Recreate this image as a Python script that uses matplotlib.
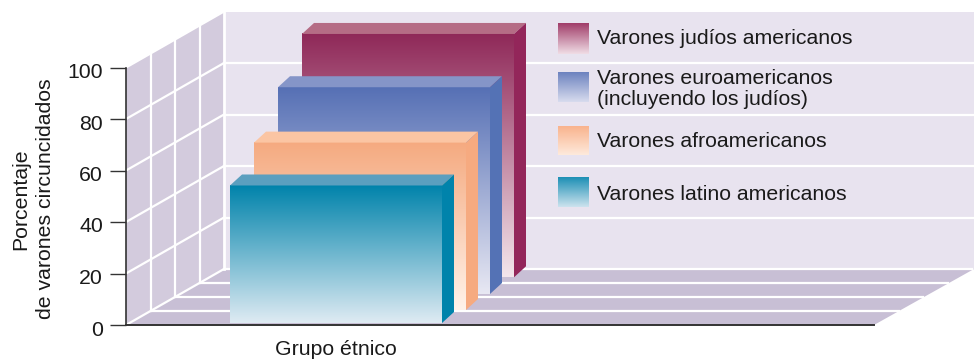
import numpy as np
import matplotlib
matplotlib.use("Agg")
import matplotlib.pyplot as plt
from matplotlib.colors import LinearSegmentedColormap
from matplotlib.patches import Polygon
from matplotlib.transforms import ScaledTranslation

plt.rcParams['font.family'] = ['Liberation Sans', 'DejaVu Sans']

# Data, back bar first
groups = ["Varones judíos americanos",
          "Varones euroamericanos\n(incluyendo los judíos)",
          "Varones afroamericanos",
          "Varones latino americanos"]
percent = [94.5, 80.3, 65, 53.4]
y_ticks = [0, 20, 40, 60, 80, 100]
x_label = "Grupo étnico"
y_label = "Porcentaje\nde varones circuncidados"

# Colours per bar: gradient top, gradient bottom, side face, cap
grad_top = ['#8f2858', '#5670b5', '#f5aa80', '#0083ab']
grad_bottom = ['#f3e6ec', '#e8e8f3', '#fff3ea', '#dfebf3']
side_col = ['#93265a', '#5472b5', '#f6aa80', '#0083ab']
cap_col = ['#b56c85', '#8595c8', '#fbc5a3', '#5b9fbf']
swatch_top = ['#a03c69', '#6c82bf', '#f9b38d', '#1c8fb5']
swatch_bottom = ['#f0dde5', '#d8dcee', '#feeadc', '#cde3ee']

# Layout of the fake 3D box, in pixels on a 974x360 canvas
PX_PER_PCT = 2.575
ZERO_PX = 325
DEPTH_X, DEPTH_Y = 98, 56
bar_left = [302, 278, 254, 230]
bar_base = [277.3, 294, 310, 323]
bar_width = 212
cap_dx, cap_dy = 12, 11
swatch_y = [(23, 54), (72, 102), (126, 155), (177, 207)]
label_y = [38.5, 89, 141.5, 194.5]

WALL_BACK = '#e8e3ef'
WALL_LEFT = '#d3cbdd'
FLOOR = '#c8bfd5'
AXIS_COL = '#333333'
TEXT_COL = '#1a1a1a'
FONT_SIZE = 15.3


def pct_of(px):
    return (ZERO_PX - px) / PX_PER_PCT


def depth_pt(x, pct, d):
    # shift a front-plane point d of the way towards the back wall
    return (x + DEPTH_X * d, pct + DEPTH_Y * d / PX_PER_PCT)


def gradient(ax, extent, top, bottom, z):
    cmap = LinearSegmentedColormap.from_list('g', [top, bottom])
    ax.imshow(np.linspace(0, 1, 256)[:, None], extent=extent, cmap=cmap,
              aspect='auto', zorder=z)


fig = plt.figure(figsize=(9.74, 3.6), dpi=100)
ax = fig.add_axes([0, 0, 1, 1])

# Walls and floor
top_back = depth_pt(126, 100, 1)
bottom_back = depth_pt(126, 0, 1)
ax.add_patch(Polygon([bottom_back, top_back, (974, top_back[1]), (974, bottom_back[1])],
                     fc=WALL_BACK, ec='none', zorder=0.1))
ax.add_patch(Polygon([(126, 0), (126, 100), top_back, bottom_back],
                     fc=WALL_LEFT, ec='none', zorder=0.1))
ax.add_patch(Polygon([(126, 0), (874, 0), (974, bottom_back[1]), bottom_back],
                     fc=FLOOR, ec='none', zorder=0.1))

# White grid on the walls
for t in y_ticks:
    a, b = depth_pt(126, t, 0), depth_pt(126, t, 1)
    ax.plot([a[0], b[0]], [a[1], b[1]], color='white', lw=1.6, zorder=0.2)
    if t > 0 and t < 100:
        ax.plot([b[0], 974], [b[1], b[1]], color='white', lw=1.6, zorder=0.2)
for d in [0.25, 0.5, 0.75, 1]:
    a, b = depth_pt(126, 0, d), depth_pt(126, 100, d)
    ax.plot([a[0], b[0]], [a[1], b[1]], color='white', lw=2.0 if d == 1 else 1.6, zorder=0.2)
    end = depth_pt(874, 0, d)
    ax.plot([a[0], end[0]], [a[1], end[1]], color='white', lw=1.6, zorder=0.2)

# Bars, drawn back to front
for i, value in enumerate(percent):
    z = 1 + i * 0.1
    base = pct_of(bar_base[i])
    top = base + value
    left = bar_left[i]
    right = left + bar_width
    dy = cap_dy / PX_PER_PCT
    gradient(ax, (left, right, base, top), grad_top[i], grad_bottom[i], z)
    ax.add_patch(Polygon([(left, top), (right, top), (right + cap_dx, top + dy), (left + cap_dx, top + dy)],
                         fc=cap_col[i], ec='none', zorder=z))
    ax.add_patch(Polygon([(right, base), (right, top), (right + cap_dx, top + dy), (right + cap_dx, base + dy)],
                         fc=side_col[i], ec='none', zorder=z))

ax.set_xlim(0, 974)
ax.set_ylim(pct_of(360), pct_of(0))

# Axis lines and ticks
for side in ['top', 'right']:
    ax.spines[side].set_visible(False)
ax.spines['left'].set_position(('data', 126))
ax.spines['left'].set_bounds(0, 100)
ax.spines['bottom'].set_position(('data', 0))
ax.spines['bottom'].set_bounds(126, 874)
ax.spines['left'].set_color(AXIS_COL)
ax.spines['bottom'].set_color(AXIS_COL)
ax.spines['left'].set_linewidth(1.2)
ax.spines['bottom'].set_linewidth(1.4)
ax.set_xticks([])
ax.set_yticks(y_ticks)
ax.tick_params(axis='y', length=11.5, width=1.0, color=AXIS_COL, pad=5,
               labelsize=FONT_SIZE, labelcolor=TEXT_COL)

# tick numbers sit a little below their tick marks
nudge = ScaledTranslation(0, -3 / 100, fig.dpi_scale_trans)
for lab in ax.get_yticklabels():
    lab.set_transform(lab.get_transform() + nudge)

ax.text(336, pct_of(349.5), x_label, ha='center', va='center', fontsize=FONT_SIZE, color=TEXT_COL)
ax.text(33.5, pct_of(199), y_label, rotation=90, ha='center', va='center', multialignment='center',
        fontsize=FONT_SIZE, color=TEXT_COL, linespacing=1.38)

# Legend, positioned in canvas pixels
leg = fig.add_axes([0, 0, 1, 1])
leg.patch.set_visible(False)
leg.axis('off')
for i, name in enumerate(groups):
    y0, y1 = swatch_y[i]
    gradient(leg, (558, 589, y1, y0), swatch_top[i], swatch_bottom[i], 2)
    leg.text(597, label_y[i], name, ha='left', va='center', fontsize=FONT_SIZE,
             color=TEXT_COL, linespacing=1.15)
leg.set_xlim(0, 974)
leg.set_ylim(360, 0)

fig.savefig('out.png', dpi=100)
